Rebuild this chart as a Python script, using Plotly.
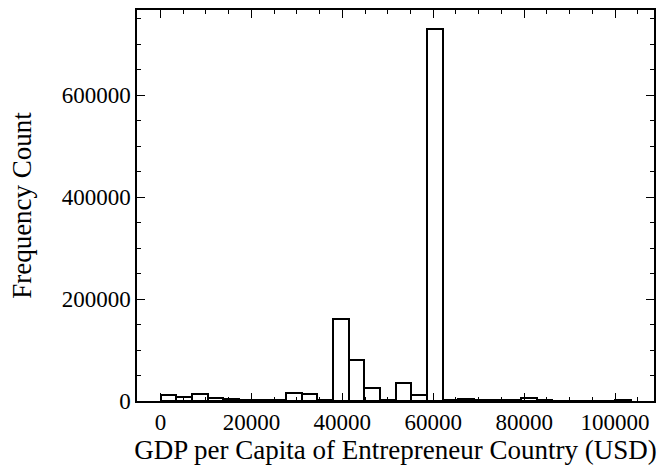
import plotly.graph_objects as go

# Histogram data (30 equal bins)
bin_start = 0
bin_end = 103400
n_bins = 30
counts = [11000, 7000, 13000, 5000, 3000, 1500, 1000, 1500, 15000, 13000,
          1000, 160000, 81000, 25500, 2000, 36000, 12500, 731000, 1000, 4000,
          2000, 2500, 1500, 6000, 1500, 500, 500, 500, 500, 2000]

x_ticks = [0, 20000, 40000, 60000, 80000, 100000]
y_ticks = [0, 200000, 400000, 600000]

bw = (bin_end - bin_start) / n_bins
edges = [bin_start + i * bw for i in range(n_bins + 1)]
centers = [(edges[i] + edges[i + 1]) / 2 for i in range(n_bins)]

span = bin_end - bin_start
xr = [bin_start - 0.05 * span, bin_end + 0.05 * span]
yr = [0, max(counts) * 1.05]

fig = go.Figure(go.Bar(
    x=centers, y=counts, width=[bw] * n_bins,
    marker=dict(color="white", line=dict(color="black", width=2)),
))

fam = "Liberation Serif, Times New Roman, serif"
tick_font = dict(family=fam, size=23, color="black")
title_font = dict(family=fam, size=27, color="black")
axis_common = dict(
    showline=True, linecolor="black", linewidth=1.5, mirror="allticks",
    ticks="inside", ticklen=8, tickwidth=1.2, tickcolor="black",
    showgrid=False, zeroline=False, tickfont=tick_font,
)
fig.update_layout(
    width=658, height=471,
    margin=dict(l=137, r=2, t=10, b=70),
    plot_bgcolor="white", paper_bgcolor="white",
    font=tick_font, showlegend=False, bargap=0,
    xaxis=dict(range=xr, tickvals=x_ticks, tickformat="d",
               title=dict(text="GDP per Capita of Entrepreneur Country (USD)", font=title_font, standoff=6),
               minor=dict(ticks="inside", ticklen=4, tickwidth=1, tickcolor="black",
                          tick0=0, dtick=5000, showgrid=False),
               **axis_common),
    yaxis=dict(range=yr, tickvals=y_ticks, tickformat="d",
               title=dict(text="Frequency Count", font=title_font, standoff=22),
               minor=dict(ticks="inside", ticklen=4, tickwidth=1, tickcolor="black",
                          tick0=0, dtick=50000, showgrid=False),
               **axis_common),
)

fig.write_html("out.html")
